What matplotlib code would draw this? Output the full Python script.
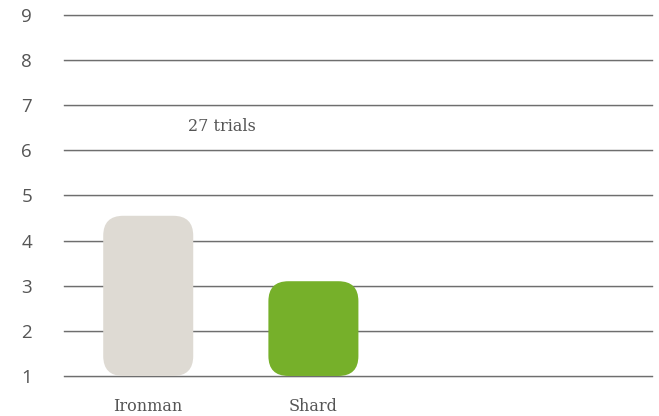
import matplotlib.pyplot as plt
from matplotlib.patches import FancyBboxPatch

# data
categories = ["Ironman", "Shard"]
values = [4.55, 3.1]
bar_colors = ["#dedad3", "#76b02a"]
y_ticks = [1, 2, 3, 4, 5, 6, 7, 8, 9]
note = "27 trials"

fig = plt.figure(figsize=(6.59, 4.16), dpi=100)
ax = fig.add_axes([0.0971, 0.0962, 0.8923, 0.8678])

x_lo, x_hi = -0.51, 3.05
y_lo, y_hi = 1, 9
ax.set_xlim(x_lo, x_hi)
ax.set_ylim(y_lo, y_hi)

# horizontal rules at each integer
for t in y_ticks:
    ax.axhline(t, color="#6e6e6e", lw=1.0, zorder=1, clip_on=False)
    ax.axhline(t - 0.022, color="#d4d4d4", lw=0.6, zorder=1, clip_on=False)

# rounded bars, corner radius kept roughly circular in pixels
bbox = ax.get_window_extent()
px_x = bbox.width / (x_hi - x_lo)
px_y = bbox.height / (y_hi - y_lo)
aspect = px_x / px_y
radius_px = 20
width = 0.545
for i, (v, c) in enumerate(zip(values, bar_colors)):
    r = radius_px / px_x
    patch = FancyBboxPatch((i - width / 2, y_lo), width, v - y_lo,
                           boxstyle=f"round,pad=0,rounding_size={r}",
                           mutation_aspect=aspect,
                           facecolor=c, edgecolor="none", zorder=2)
    ax.add_patch(patch)

ax.text(0.447, 6.52, note, ha="center", va="center", fontsize=11.5,
        family="DejaVu Serif", color="#555555")

ax.set_yticks(y_ticks)
ax.set_yticklabels([str(t) for t in y_ticks], fontsize=13.5, color="#555555",
                   family="Open Sans")
ax.set_xticks(range(len(categories)))
ax.set_xticklabels(categories, fontsize=11.5, family="DejaVu Serif", color="#555555")
ax.tick_params(axis="y", length=0, pad=23)
ax.tick_params(axis="x", length=0, pad=16)
for s in ax.spines.values():
    s.set_visible(False)

fig.savefig("out.png", dpi=100)
